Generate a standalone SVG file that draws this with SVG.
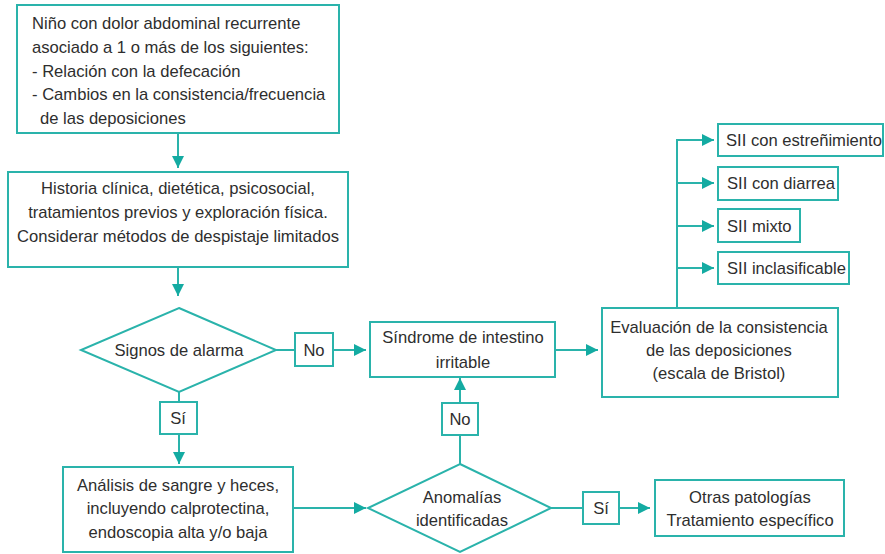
<svg xmlns="http://www.w3.org/2000/svg" width="885" height="554" viewBox="0 0 885 554">
<defs>
<style>
.b{fill:#fff;stroke:#2ab3ab;stroke-width:2}
.c{fill:none;stroke:#2ab3ab;stroke-width:2}
.t{font-family:"Liberation Sans",Arial,sans-serif;font-size:16.6px;fill:#2e2e2e}
.m{text-anchor:middle}
</style>
<marker id="ah" markerUnits="userSpaceOnUse" markerWidth="13" markerHeight="13" refX="12" refY="6" orient="auto">
<path d="M0,0 L12,6 L0,12 z" fill="#14aba2"/>
</marker>
</defs>
<rect width="885" height="554" fill="#fff"/>
<g id="connectors">
<line class="c" x1="178" y1="133" x2="178" y2="168" marker-end="url(#ah)"/>
<line class="c" x1="178" y1="267" x2="178" y2="296" marker-end="url(#ah)"/>
<line class="c" x1="276" y1="350" x2="295" y2="350"/>
<line class="c" x1="333" y1="350" x2="366" y2="350" marker-end="url(#ah)"/>
<line class="c" x1="179" y1="392" x2="179" y2="402"/>
<line class="c" x1="179" y1="434" x2="179" y2="464" marker-end="url(#ah)"/>
<line class="c" x1="293" y1="508" x2="366" y2="508" marker-end="url(#ah)"/>
<line class="c" x1="460" y1="464" x2="460" y2="435"/>
<line class="c" x1="460" y1="403" x2="460" y2="378" marker-end="url(#ah)"/>
<line class="c" x1="551" y1="508" x2="583" y2="508"/>
<line class="c" x1="619" y1="508" x2="650" y2="508" marker-end="url(#ah)"/>
<line class="c" x1="555" y1="350" x2="598" y2="350" marker-end="url(#ah)"/>
<polyline class="c" points="677,308 677,140 714,140" marker-end="url(#ah)"/>
<line class="c" x1="677" y1="183" x2="714" y2="183" marker-end="url(#ah)"/>
<line class="c" x1="677" y1="226" x2="714" y2="226" marker-end="url(#ah)"/>
<line class="c" x1="677" y1="268" x2="714" y2="268" marker-end="url(#ah)"/>
</g>
<g id="inicio">
<rect class="b" x="17" y="5" width="322" height="128"/>
<text class="t" x="32" y="29">Niño con dolor abdominal recurrente</text>
<text class="t" x="32" y="53">asociado a 1 o más de los siguientes:</text>
<text class="t" x="32" y="77">- Relación con la defecación</text>
<text class="t" x="32" y="100">- Cambios en la consistencia/frecuencia</text>
<text class="t" x="40" y="124">de las deposiciones</text>
</g>
<g id="historia">
<rect class="b" x="8" y="172" width="340" height="95"/>
<text class="t m" x="178" y="194">Historia clínica, dietética, psicosocial,</text>
<text class="t m" x="178" y="218">tratamientos previos y exploración física.</text>
<text class="t m" x="178" y="242">Considerar métodos de despistaje limitados</text>
</g>
<g id="signos">
<polygon class="b" points="179,308 276,350 179,392 81,350"/>
<text class="t m" x="179" y="356">Signos de alarma</text>
</g>
<g id="no1">
<rect class="b" x="295" y="333" width="38" height="33"/>
<text class="t m" x="314" y="356">No</text>
</g>
<g id="si1">
<rect class="b" x="160" y="402" width="37" height="32"/>
<text class="t m" x="178" y="424">Sí</text>
</g>
<g id="analisis">
<rect class="b" x="63" y="467" width="230" height="85"/>
<text class="t m" x="178" y="491">Análisis de sangre y heces,</text>
<text class="t m" x="178" y="514">incluyendo calprotectina,</text>
<text class="t m" x="178" y="538">endoscopia alta y/o baja</text>
</g>
<g id="sindrome">
<rect class="b" x="370" y="322" width="185" height="55"/>
<text class="t m" x="463" y="343">Síndrome de intestino</text>
<text class="t m" x="463" y="368">irritable</text>
</g>
<g id="anomalias">
<polygon class="b" points="460,464 551,508 460,552 368,508"/>
<text class="t m" x="462" y="503">Anomalías</text>
<text class="t m" x="462" y="526">identificadas</text>
</g>
<g id="no2">
<rect class="b" x="442" y="403" width="36" height="32"/>
<text class="t m" x="460" y="425">No</text>
</g>
<g id="si2">
<rect class="b" x="583" y="492" width="36" height="32"/>
<text class="t m" x="601" y="514">Sí</text>
</g>
<g id="otras">
<rect class="b" x="655" y="480" width="189" height="56"/>
<text class="t m" x="750" y="503">Otras patologías</text>
<text class="t m" x="750" y="526">Tratamiento específico</text>
</g>
<g id="evaluacion">
<rect class="b" x="602" y="308" width="236" height="89"/>
<text class="t m" x="719" y="333">Evaluación de la consistencia</text>
<text class="t m" x="719" y="356">de las deposiciones</text>
<text class="t m" x="719" y="379">(escala de Bristol)</text>
</g>
<g id="estrenimiento">
<rect class="b" x="718" y="124" width="165" height="32"/>
<text class="t" x="726" y="146">SII con estreñimiento</text>
</g>
<g id="diarrea">
<rect class="b" x="718" y="167" width="120" height="33"/>
<text class="t" x="727" y="189">SII con diarrea</text>
</g>
<g id="mixto">
<rect class="b" x="718" y="209" width="82" height="33"/>
<text class="t" x="727" y="232">SII mixto</text>
</g>
<g id="inclasificable">
<rect class="b" x="718" y="252" width="131" height="32"/>
<text class="t" x="727" y="274">SII inclasificable</text>
</g>
</svg>
